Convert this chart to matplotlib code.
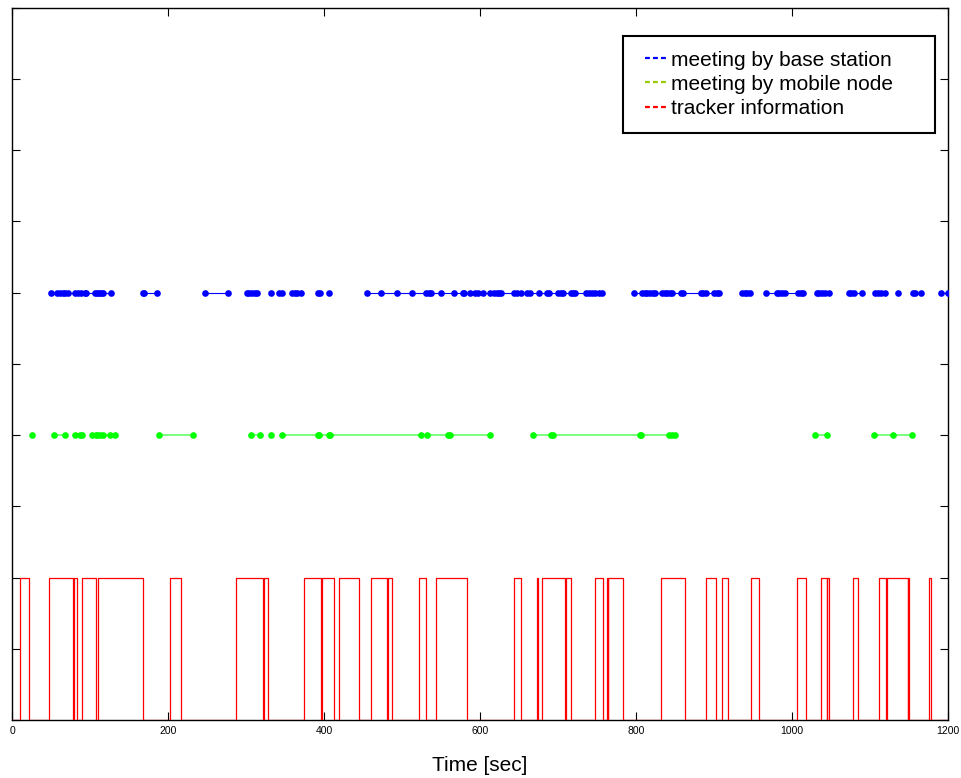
import numpy as np
import matplotlib
matplotlib.use("Agg")
import matplotlib.pyplot as plt
from matplotlib.lines import Line2D
from matplotlib.legend_handler import HandlerLine2D

plt.rcParams['font.family'] = ['Liberation Sans', 'DejaVu Sans']

# Event times [sec]; each inner list is one connected run of events
base_station_runs = [
    [49.6, 58.1, 61.5, 65.0, 68.3, 71.8, 81.2, 84.6, 88.1, 93.2, 94.9, 106.8,
     108.6, 111.2, 113.7, 117.1, 126.5],
    [167.6, 169.2, 186.3],
    [247.1, 276.9],
    [301.7, 304.2, 307.7, 311.2, 314.5],
    [331.7],
    [342.7, 346.2],
    [359.0, 362.4, 365.8, 370.9],
    [392.3, 394.9],
    [406.0],
    [455.5, 473.5, 493.2, 512.8, 530.8, 534.2, 537.6, 550.4, 566.7, 577.8,
     579.5, 587.2, 594.0, 597.4, 604.2, 612.8, 617.9, 621.4, 624.7, 626.5,
     643.6, 647.1, 653.0, 660.6, 664.1, 676.0, 686.3, 688.1, 700.0, 703.5,
     706.8, 716.3, 719.6, 722.2, 735.9, 739.4, 743.6, 747.8, 752.2, 756.4],
    [797.4, 807.7, 811.2, 814.5, 817.9, 821.4, 824.7, 833.3, 836.8, 840.1,
     843.6, 846.2, 857.3, 860.6, 882.9, 886.3, 889.7, 900.0, 903.5, 906.8],
    [935.9, 939.4, 942.7, 946.2],
    [966.7, 980.4, 983.7, 987.2, 990.6, 1007.7, 1011.2, 1014.5],
    [1031.7, 1035.0, 1038.5, 1041.9, 1047.1],
    [1072.7, 1076.0, 1079.5, 1089.7],
    [1106.8, 1110.3, 1113.7, 1119.6],
    [1135.9],
    [1154.7, 1158.1, 1165.0],
    [1190.6, 1200.0],
]

mobile_node_runs = [
    [25.6],
    [53.8, 68.3],
    [80.4, 87.2, 89.7],
    [102.6, 107.7, 109.4, 112.8, 116.3, 125.6, 131.7],
    [188.8, 231.7],
    [306.8, 317.9],
    [331.7],
    [346.2, 392.3, 394.0, 406.0, 408.0, 524.8, 531.7, 559.0, 561.5, 612.8],
    [668.4, 690.6, 693.6, 805.1, 806.5, 842.7, 846.2, 850.0],
    [1029.9, 1045.3],
    [1105.1, 1129.1, 1153.8],
]

# Tracker information: intervals where the signal is high
tracker_on = [10.3, 47.0, 79.5, 89.7, 110.3, 202.6, 287.2, 323.1, 374.4, 397.0,
              418.8, 459.9, 482.0, 521.4, 543.6, 643.6, 672.7, 679.5, 710.0,
              747.8, 762.4, 764.5, 832.5, 889.7, 910.3, 947.0, 1006.8, 1036.8,
              1045.3, 1078.6, 1111.9, 1121.4, 1149.0, 1176.1]
tracker_off = [22.4, 77.8, 83.8, 107.7, 167.6, 217.1, 322.2, 328.2, 396.2, 412.8,
               445.3, 481.2, 487.2, 530.8, 582.9, 652.2, 674.4, 709.2, 716.3,
               758.1, 763.5, 782.9, 863.2, 902.6, 917.9, 957.3, 1017.9, 1044.5,
               1047.8, 1084.6, 1120.5, 1148.4, 1149.8, 1178.6]

base_level = 6
mobile_level = 4
tracker_high = 2
t_end = 1200

xticks = [0, 200, 400, 600, 800, 1000, 1200]


def joined(runs):
    """Concatenate runs with NaN breaks so each run is a separate polyline."""
    xs = []
    for run in runs:
        xs.extend(run)
        xs.append(np.nan)
    return np.array(xs)


fig = plt.figure(figsize=(9.61, 7.78), dpi=100)
ax = fig.add_axes([12 / 961, 1 - 720 / 778, 936 / 961, 712.5 / 778])

# tracker square wave
tx = [0.0]
ty = [0.0]
for on, off in zip(tracker_on, tracker_off):
    tx += [on, on, off, off]
    ty += [0, tracker_high, tracker_high, 0]
tx.append(t_end)
ty.append(0)
ax.plot(tx, ty, color='#ff0000', lw=0.9, zorder=3)

bx = joined(base_station_runs)
ax.plot(bx, np.where(np.isnan(bx), np.nan, base_level), color='#0000ff', lw=0.8,
        marker='o', markersize=4.8, markeredgewidth=0, zorder=4)

mx = joined(mobile_node_runs)
ax.plot(mx, np.where(np.isnan(mx), np.nan, mobile_level), color='#66ff66', lw=1.2,
        marker='o', markersize=4.8, markerfacecolor='#00ff00',
        markeredgewidth=0, zorder=4)

ax.set_xlim(0, t_end)
ax.set_ylim(0, 10)
ax.set_xticks(xticks)
ax.set_yticks(np.arange(0, 11, 1))
ax.set_yticklabels([])
ax.tick_params(direction='in', length=6, width=0.8, top=True, right=True,
               labelsize=7.5, pad=4)
for s in ax.spines.values():
    s.set_linewidth(1.0)
ax.set_xlabel('Time [sec]', fontsize=15, labelpad=15)

handles = [
    Line2D([], [], color='#0000ff', ls='--', lw=1.6, dashes=(2.2, 1.4)),
    Line2D([], [], color='#99cc00', ls='--', lw=1.6, dashes=(2.2, 1.4)),
    Line2D([], [], color='#ff0000', ls='--', lw=1.6, dashes=(2.2, 1.4)),
]
labels = ['meeting by base station', 'meeting by mobile node', 'tracker information']
leg = ax.legend(handles, labels, loc='upper left',
                bbox_to_anchor=(623 / 961, 1 - 131 / 778, 312 / 961, 95 / 778),
                bbox_transform=fig.transFigure, mode='expand', borderaxespad=0,
                fontsize=15, handlelength=1.40, handletextpad=0.19,
                labelspacing=0.25, borderpad=0.70, fancybox=False,
                framealpha=1, edgecolor='black',
                handler_map={Line2D: HandlerLine2D(xpad=0.34)})
leg.get_frame().set_linewidth(1.5)

fig.savefig('out.png', dpi=100)
